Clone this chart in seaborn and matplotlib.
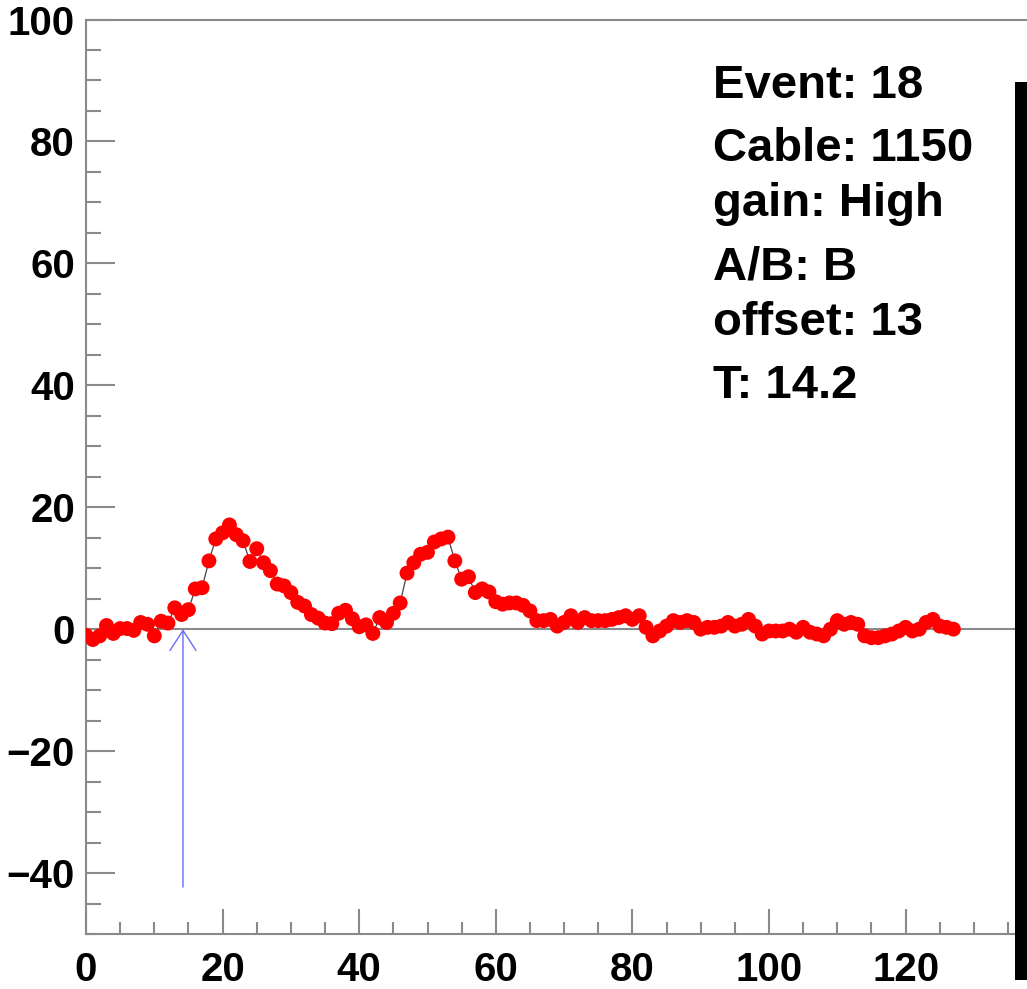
import numpy as np
import pandas as pd
import matplotlib
matplotlib.use("Agg")
import matplotlib.pyplot as plt
from matplotlib.patches import Rectangle
from matplotlib.ticker import MultipleLocator, FixedLocator
import seaborn as sns

# Waveform samples (ADC counts after pedestal subtraction), one per time bin
samples = [
    -1.0, -1.7, -1.1, 0.6, -0.7, 0.1, 0.1, -0.2, 1.1, 0.8,
    -1.1, 1.3, 1.0, 3.5, 2.4, 3.2, 6.6, 6.8, 11.2, 14.8,
    15.8, 17.1, 15.5, 14.5, 11.1, 13.2, 10.9, 9.6, 7.4, 7.1,
    6.0, 4.4, 3.8, 2.4, 1.8, 1.0, 0.9, 2.6, 3.1, 1.7,
    0.4, 0.7, -0.7, 1.9, 1.1, 2.6, 4.3, 9.2, 10.9, 12.3,
    12.6, 14.3, 14.8, 15.1, 11.2, 8.2, 8.6, 6.0, 6.6, 6.1,
    4.5, 4.1, 4.3, 4.3, 3.9, 3.0, 1.4, 1.4, 1.6, 0.5,
    1.1, 2.2, 1.1, 1.9, 1.4, 1.4, 1.4, 1.6, 1.9, 2.2,
    1.6, 2.2, 0.3, -1.1, -0.3, 0.5, 1.4, 1.1, 1.4, 1.1,
    0.0, 0.3, 0.3, 0.5, 1.1, 0.5, 0.8, 1.6, 0.5, -0.8,
    -0.3, -0.3, -0.3, 0.0, -0.5, 0.3, -0.5, -0.8, -1.1, 0.0,
    1.4, 0.8, 1.1, 0.8, -1.1, -1.4, -1.4, -1.1, -0.8, -0.3,
    0.3, -0.3, 0.0, 1.1, 1.6, 0.5, 0.3, 0.0,
]
time_bins = list(range(len(samples)))

# Event information shown in the text box
event_id = 18
cable = 1150
gain = "High"
ab_side = "B"
offset = 13
t_arrival = 14.2
arrow_bottom = -42.3

x_range = (0, 140)
y_range = (-50, 100)
x_labels = [0, 20, 40, 60, 80, 100, 120]
y_labels = [-40, -20, 0, 20, 40, 60, 80, 100]

df = pd.DataFrame({"bin": time_bins, "adc": samples})

sns.set_theme(style="white")
plt.rcParams["font.family"] = ["Liberation Sans", "DejaVu Sans"]
plt.rcParams["font.weight"] = "bold"

W, H = 1027, 989
fig = plt.figure(figsize=(W / 100, H / 100), dpi=100)
fig.patch.set_facecolor("white")

# Axes frame: left edge at 86 px, y from -50 (934 px) to 100 (19.5 px)
ax_left = 86 / W
ax_bottom = 1 - 934 / H
ax_height = (934 - 19.5) / H
ax_width = (x_range[1] - x_range[0]) * 6.83 / W
ax = fig.add_axes([ax_left, ax_bottom, ax_width, ax_height])
ax.set_facecolor("white")

axis_grey = "#8a8a8a"

# Baseline at zero
ax.axhline(0, color=axis_grey, lw=1.5, zorder=1)

# Connecting line and sample markers
sns.lineplot(data=df, x="bin", y="adc", ax=ax, color="#444444", lw=0.9,
             zorder=2, legend=False, estimator=None, sort=False)
sns.scatterplot(data=df, x="bin", y="adc", ax=ax, color="#ff0000", s=115,
                edgecolor="none", linewidth=0, zorder=3, legend=False)

# Arrival-time marker
ax.annotate("", xy=(t_arrival, 0), xytext=(t_arrival, arrow_bottom),
            arrowprops=dict(arrowstyle="->,head_length=0.4,head_width=0.26",
                            color="#6a6aff", lw=1.0, mutation_scale=36,
                            shrinkA=0, shrinkB=0),
            zorder=4)

ax.set_xlim(*x_range)
ax.set_ylim(*y_range)
ax.set_xlabel("")
ax.set_ylabel("")

for side in ("top", "left", "bottom", "right"):
    ax.spines[side].set_color(axis_grey)
    ax.spines[side].set_linewidth(1.5)

ax.xaxis.set_major_locator(FixedLocator(x_labels))
ax.xaxis.set_minor_locator(MultipleLocator(5))
ax.yaxis.set_major_locator(FixedLocator(y_labels))
ax.yaxis.set_minor_locator(MultipleLocator(5))

ax.tick_params(axis="y", which="major", direction="in", length=21, width=1.5,
               color=axis_grey, pad=8, labelsize=29, left=True, right=False)
ax.tick_params(axis="y", which="minor", direction="in", length=10.5, width=1.5,
               color=axis_grey, left=True, right=False)
ax.tick_params(axis="x", which="major", direction="in", length=18, width=1.5,
               color=axis_grey, pad=12, labelsize=29, bottom=True, top=False)
ax.tick_params(axis="x", which="minor", direction="in", length=8.6, width=1.5,
               color=axis_grey, bottom=True, top=False)
for lab in ax.get_xticklabels() + ax.get_yticklabels():
    lab.set_fontweight("bold")
    lab.set_color("black")

# Event information text
info_lines = [
    (f"Event: {event_id}", 98),
    (f"Cable: {cable}", 161),
    (f"gain: {gain}", 216),
    (f"A/B: {ab_side}", 280),
    (f"offset: {offset}", 335),
    (f"T: {t_arrival}", 398),
]
for text, base_px in info_lines:
    fig.text(713 / W, 1 - base_px / H, text, fontsize=34, fontweight="bold",
             ha="left", va="baseline", color="black")

# Black bar along the right edge
fig.patches.append(Rectangle((1015 / W, 1 - 980 / H), 14 / W, (980 - 82) / H,
                             transform=fig.transFigure, facecolor="black",
                             edgecolor="none", zorder=10))

fig.savefig("out.png", dpi=100, facecolor="white")
